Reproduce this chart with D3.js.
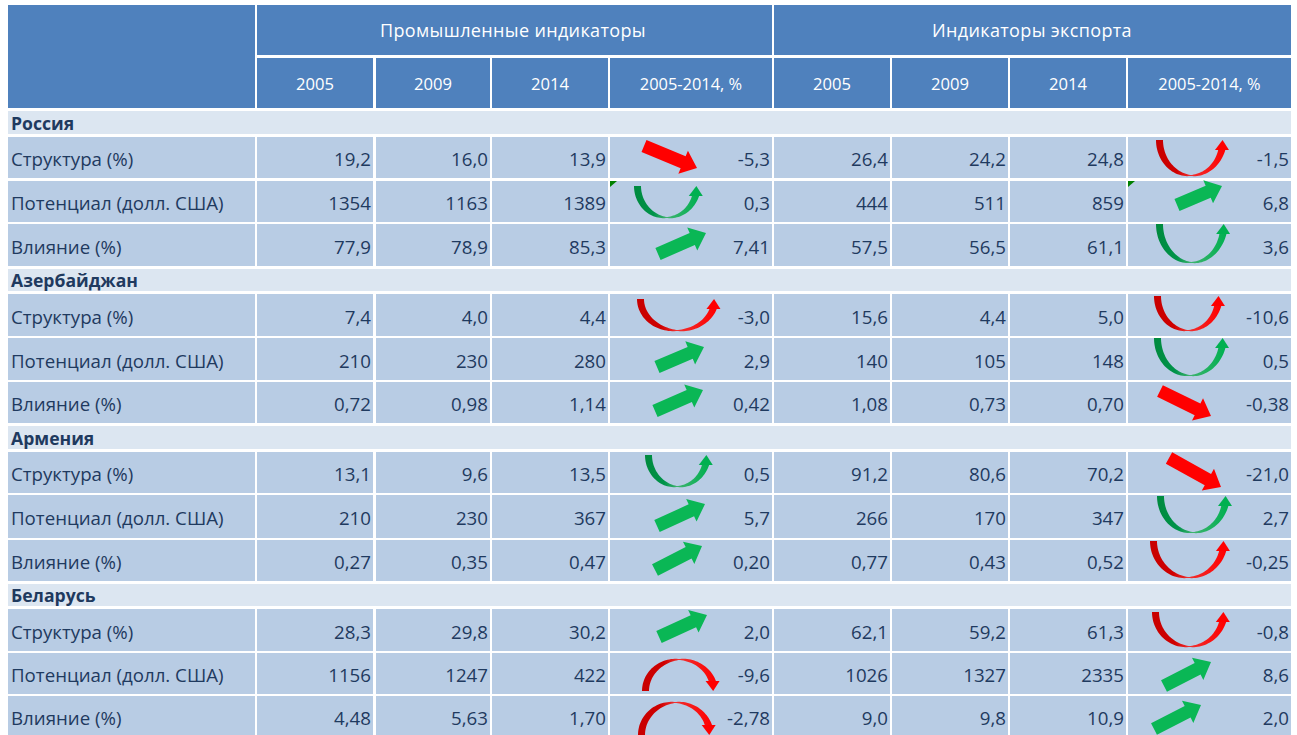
<!DOCTYPE html>
<html><head><meta charset="utf-8">
<script src="https://cdn.jsdelivr.net/npm/d3@7/dist/d3.min.js"></script>
<style>html,body{margin:0;padding:0;background:#fff;overflow:hidden}svg{display:block}</style>
</head><body><svg id="c" width="1297" height="735"></svg>
<script>
const groupHeaders = ["Промышленные индикаторы", "Индикаторы экспорта"];
const subHeaders = ["2005", "2009", "2014", "2005-2014, %"];
const regions = ["Россия", "Азербайджан", "Армения", "Беларусь"];
const metrics = ["Структура (%)", "Потенциал (долл. США)", "Влияние (%)"];

const russiaValues = [
  ["19,2","16,0","13,9","-5,3","26,4","24,2","24,8","-1,5"],
  ["1354","1163","1389","0,3","444","511","859","6,8"],
  ["77,9","78,9","85,3","7,41","57,5","56,5","61,1","3,6"]];
const azerbaijanValues = [
  ["7,4","4,0","4,4","-3,0","15,6","4,4","5,0","-10,6"],
  ["210","230","280","2,9","140","105","148","0,5"],
  ["0,72","0,98","1,14","0,42","1,08","0,73","0,70","-0,38"]];
const armeniaValues = [
  ["13,1","9,6","13,5","0,5","91,2","80,6","70,2","-21,0"],
  ["210","230","367","5,7","266","170","347","2,7"],
  ["0,27","0,35","0,47","0,20","0,77","0,43","0,52","-0,25"]];
const belarusValues = [
  ["28,3","29,8","30,2","2,0","62,1","59,2","61,3","-0,8"],
  ["1156","1247","422","-9,6","1026","1327","2335","8,6"],
  ["4,48","5,63","1,70","-2,78","9,0","9,8","10,9","2,0"]];
const regionValues = [russiaValues, azerbaijanValues, armeniaValues, belarusValues];

// arrow kinds per region row: [industry, export]
const arrowKinds = [
  [["downRed","uRed"],["uGreen","upGreen"],["upGreen","uGreen"]],
  [["uRed","uRed"],["upGreen","uGreen"],["upGreen","downRed"]],
  [["uGreen","downRed"],["upGreen","uGreen"],["upGreen","uRed"]],
  [["upGreen","uRed"],["archRed","upGreen"],["archRed","upGreen"]]
];
// layout only: arrow box inside its cell [x0,y0,x1,y1]
const arrowBoxes = [
  [[[34,9,87,31],[28,3,102,39]],[[24,5,94,37],[49,24,94,5]],[[48,30,96,9],[28,0,103,39]]],
  [[[27,5,112,37],[26,2,98,37]],[[47,29,94,9],[26,0,102,38]],[[45,29,93,8],[32,9,83,34]]],
  [[[35,3,104,35],[41,6,93,35]],[[47,31,95,9],[29,1,105,38]],[[45,30,92,6],[22,1,103,38]]],
  [[[49,28,97,6],[24,3,103,38]],[[32,6,111,38],[36,33,83,9]],[[28,6,107,39],[26,33,73,9]]]
];

const colEdges = [[8,255],[257,373],[376,490],[492,608],[610,772],[774,890],[892,1008],[1010,1126],[1128,1291]];
const groupRowEdges = [[111,134],[269,291],[426,449],[584,606]];
const rowEdges = [
  [[137,178],[181,222],[224,266]],
  [[294,336],[338,380],[382,423]],
  [[452,493],[495,538],[540,581]],
  [[609,651],[653,694],[696,736]]];

const FONT = "'Open Sans','Noto Sans',sans-serif";
const FS = 18.7, TXT = "#1f3a5f";
const svg = d3.select("#c");
const defs = svg.append("defs");
[["gradGreen",["#008a3e","#00934a","#3fb36f","#00b050"]],["gradRed",["#c80000","#cf0000","#f03030","#ff0000"]]].forEach(([id,st])=>{
  const g=defs.append("linearGradient").attr("id",id).attr("x1",0).attr("x2",1).attr("y1",0).attr("y2",0);
  [0,0.3,0.5,1].forEach((o,i)=>g.append("stop").attr("offset",o).attr("stop-color",st[i]));
});
const cell=(x0,x1,y0,y1,f)=>svg.append("rect").attr("x",x0).attr("y",y0).attr("width",x1-x0).attr("height",y1-y0).attr("fill",f);
const text=(s,x,y,anchor,opt={})=>svg.append("text").attr("x",x).attr("y",y).attr("text-anchor",anchor)
  .attr("font-family",FONT).attr("font-size",opt.fs||FS).attr("font-weight",opt.w||400)
  .attr("letter-spacing",opt.ls||null).attr("fill",opt.c||TXT).text(s);

// Header
const HBG="#4f81bd";
cell(8,255,5,108,HBG);
cell(257,772,5,55,HBG); cell(774,1291,5,55,HBG);
text(groupHeaders[0],513,36.5,"middle",{c:"#fff",ls:0.35,fs:18});
text(groupHeaders[1],1032,36.5,"middle",{c:"#fff",ls:0.35,fs:18});
for(let i=1;i<9;i++){
  const [a,b]=colEdges[i];
  cell(a,b,58,108,HBG);
  text(subHeaders[(i-1)%4],(a+b)/2,90,"middle",{c:"#fff",fs:(i%4==0)?16.4:16.6});
}

const arrowColor={downRed:"#ff0000",upGreen:"#0ab755"};
function straight(kind,b,ox,oy){
  const x0=ox+b[0],y0=oy+b[1],x1=ox+b[2],y1=oy+b[3];
  const L=Math.hypot(x1-x0,y1-y0),ux=(x1-x0)/L,uy=(y1-y0)/L,nx=-uy,ny=ux;
  const hl=15,sw=6.5,hw=12.5;
  const p=(a,n)=>[x0+ux*a+nx*n,y0+uy*a+ny*n];
  const pts=[p(0,sw),p(L-hl,sw),p(L-hl,hw),p(L,0),p(L-hl,-hw),p(L-hl,-sw),p(0,-sw)];
  svg.append("path").attr("d",d3.line()(pts)+"Z").attr("fill",arrowColor[kind]);
}
function curved(kind,b,ox,oy){
  const arch=kind==="archRed";
  const W=b[2]-b[0],H=b[3]-b[1];
  const sx=d3.scaleLinear().domain([0,1]).range([ox+b[0],ox+b[2]]);
  const sy=d3.scaleLinear().domain([0,1]).range(arch?[oy+b[3],oy+b[1]]:[oy+b[1],oy+b[3]]);
  const tw=7, hHalf=7, hLen=10, endW=7;
  const cxL=tw/2, cxR=W-hHalf;
  const cx=(cxL+cxR)/2, rx=(cxR-cxL)/2, ry=H-0.5;
  const end=1-Math.asin(Math.min(1,(hLen-1)/ry))/Math.PI;
  const N=56, outer=[], inner=[];
  let last=null;
  d3.range(N+1).forEach(i=>{
    const t=i/N*end, a=Math.PI*t;
    const x=cx-rx*Math.cos(a), y=ry*Math.sin(a);
    let dx=rx*Math.sin(a), dy=ry*Math.cos(a);
    const l=Math.hypot(dx,dy); dx/=l; dy/=l;
    const w=t<0.5?0.8+(tw-0.8)*(1-Math.pow(t/0.5,2.2)):0.8+(endW-0.8)*Math.pow((t-0.5)/(end-0.5),0.75);
    outer.push([x-dy*w/2,y+dx*w/2]);
    inner.push([x+dy*w/2,y-dx*w/2]);
    last=[x,y];
  });
  const tip=[last[0]+0.6,last[1]-hLen+1];
  const w1=[last[0]-hHalf,last[1]+1],w2=[last[0]+hHalf,last[1]+1];
  const m=p=>[sx(p[0]/W),sy(p[1]/H)];
  const body=outer.concat(inner.slice().reverse()).map(m);
  const id=kind==="uGreen"?"gradGreen":"gradRed";
  svg.append("path").attr("d",d3.line()(body)+"Z").attr("fill",`url(#${id})`);
  svg.append("path").attr("d",d3.line()([w1,tip,w2].map(m))+"Z").attr("fill",kind==="uGreen"?"#00b050":"#ff0000");
}

regions.forEach((r,ri)=>{
  const [gy0,gy1]=groupRowEdges[ri];
  cell(8,1291,gy0,gy1,"#dce6f1");
  text(r,11,gy1-4.5,"start",{w:700,fs:17.6});
  metrics.forEach((m,mi)=>{
    const [y0,y1]=rowEdges[ri][mi];
    colEdges.forEach(([a,b])=>cell(a,b,y0,y1,"#b8cce4"));
    const base=(y0+y1)/2+8.6;
    text(m,11,base,"start");
    regionValues[ri][mi].forEach((v,vi)=>text(v,colEdges[vi+1][1]-2,base,"end"));
    arrowKinds[ri][mi].forEach((k,ai)=>{
      const ox=colEdges[ai?8:4][0], b=arrowBoxes[ri][mi][ai];
      if(k==="downRed"||k==="upGreen") straight(k,b,ox,y0); else curved(k,b,ox,y0);
    });
  });
});
// small green corner marks
[0,1].forEach(ai=>{
  const ox=colEdges[ai?8:4][0], y=rowEdges[0][1][0];
  svg.append("path").attr("d",d3.line()([[ox,y],[ox+7,y],[ox,y+6]])+"Z").attr("fill","#008000");
});
</script></body></html>
